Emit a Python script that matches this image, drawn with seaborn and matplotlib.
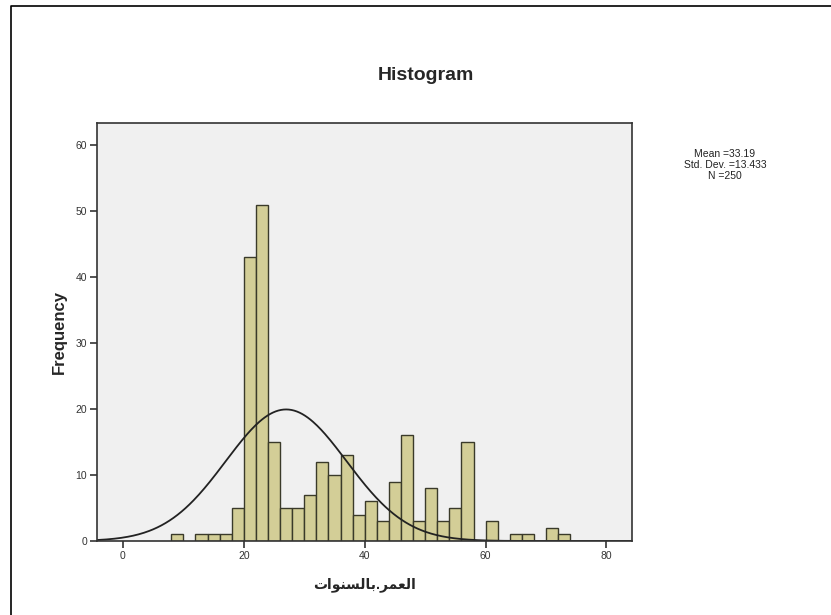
import matplotlib
matplotlib.use("Agg")
import matplotlib.pyplot as plt
from matplotlib.lines import Line2D
import numpy as np
import seaborn as sns

# tranche d'age (debut de classe, largeur 2 ans) et effectifs
age_bin_start = [8, 10, 12, 14, 16, 18, 20, 22, 24, 26, 28, 30, 32, 34, 36, 38, 40,
                 42, 44, 46, 48, 50, 52, 54, 56, 58, 60, 62, 64, 66, 68, 70, 72]
frequency = [1, 0, 1, 1, 1, 5, 43, 51, 15, 5, 5, 7, 12, 10, 13, 4, 6,
             3, 9, 16, 3, 8, 3, 5, 15, 0, 3, 0, 1, 1, 0, 2, 1]
bin_width = 2

# courbe normale telle que dessinee (centre et ecart-type)
curve_mean = 27.0
curve_sd = 10.0

stats_lines = ["Mean =33.19", "Std. Dev. =13.433", "N =250"]
x_ticks = [0, 20, 40, 60, 80]
y_ticks = [0, 10, 20, 30, 40, 50, 60]

x_label = "العمر.بالسنوات"
# matplotlib ne fait pas la mise en forme arabe: formes de presentation, ordre visuel
x_label_shaped = "\uFE95\uFE8D\uFEEE\uFEE8\uFEB4\uFEDF\uFE8E\uFE91.\uFEAE\uFEE4\uFECC\uFEDF\uFE8D"

sns.set_style("white")
plt.rcParams['font.family'] = ['Liberation Sans', 'DejaVu Sans']

fig = plt.figure(figsize=(8.31, 6.15), dpi=100)
ax = fig.add_axes([0.1167, 0.1203, 0.6444, 0.6789])
ax.set_facecolor("#f0f0f0")

edges = age_bin_start + [age_bin_start[-1] + bin_width]
centers = [b + bin_width / 2 for b in age_bin_start]
sns.histplot(x=centers, weights=frequency, bins=edges, ax=ax,
             color="#d3ce97", edgecolor="#3a3a2a", linewidth=1.0, alpha=1.0)
for p in ax.patches:
    if p.get_height() == 0:
        p.set_visible(False)

n_total = sum(frequency)
xs = np.linspace(-4.3, 84.3, 400)
ys = n_total * bin_width / (curve_sd * np.sqrt(2 * np.pi)) * np.exp(-0.5 * ((xs - curve_mean) / curve_sd) ** 2)
ax.plot(xs, ys, color="#222222", linewidth=1.3)

ax.set_xlim(-4.3, 84.3)
ax.set_ylim(0, 63.3)
ax.set_xticks(x_ticks)
ax.set_yticks(y_ticks)
ax.tick_params(axis="both", direction="out", length=5, width=1.2, color="#333333",
               labelsize=7.5, labelcolor="#333333", pad=2, bottom=True, left=True)
for s in ax.spines.values():
    s.set_color("#333333")
    s.set_linewidth(1.2)

ax.set_ylabel("Frequency", fontsize=12, fontweight="bold", labelpad=6)
ax.set_xlabel(x_label_shaped, fontsize=10, fontweight="bold", labelpad=12)

fig.text(426 / 831, 1 - 76 / 615, "Histogram", ha="center", va="center",
         fontsize=14, fontweight="bold")
fig.text(725 / 831, 1 - 165 / 615, "\n".join(stats_lines), ha="center", va="center",
         fontsize=7.5, linespacing=1.1, color="#222222")

# cadre exterieur (haut et gauche)
fig.add_artist(Line2D([11 / 831, 11 / 831, 1.0], [0.0, 1 - 6 / 615, 1 - 6 / 615],
                      transform=fig.transFigure, color="black", linewidth=1.2))

fig.savefig("out.png", dpi=100)
